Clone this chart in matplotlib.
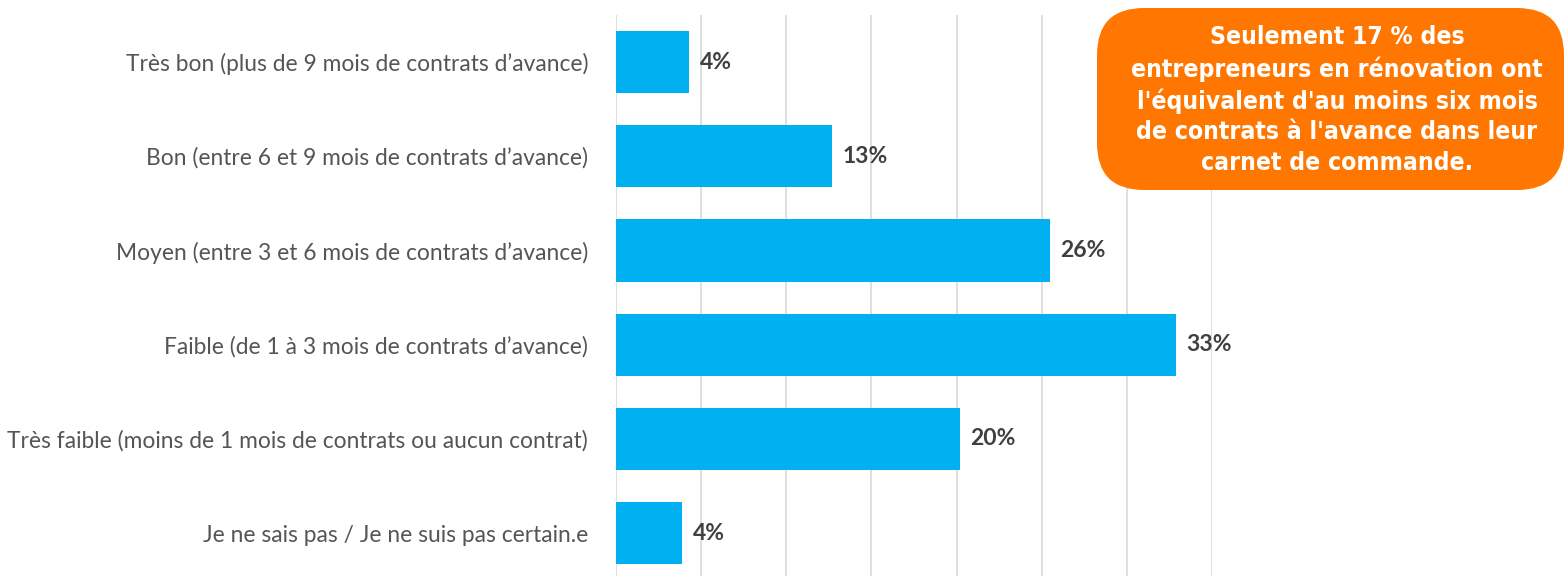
import matplotlib.pyplot as plt
from matplotlib.patches import FancyBboxPatch

categories = [
    "Très bon (plus de 9 mois de contrats d’avance)",
    "Bon (entre 6 et 9 mois de contrats d’avance)",
    "Moyen (entre 3 et 6 mois de contrats d’avance)",
    "Faible (de 1 à 3 mois de contrats d’avance)",
    "Très faible (moins de 1 mois de contrats ou aucun contrat)",
    "Je ne sais pas / Je ne suis pas certain.e",
]
values = [4.3, 12.7, 25.5, 32.9, 20.2, 3.9]
value_labels = ["4%", "13%", "26%", "33%", "20%", "4%"]
note = ("Seulement 17 % des\nentrepreneurs en rénovation ont\n"
        "l'équivalent d'au moins six mois\nde contrats à l'avance dans leur\n"
        "carnet de commande.")

W, H = 1566, 576
fig = plt.figure(figsize=(W / 100, H / 100), dpi=100)
ax = fig.add_axes([616 / W, 0, (1212 - 616) / W, (H - 15) / H])

y = list(range(len(categories)))
ax.barh(y, values, height=0.66, color="#00B0F0", zorder=2)
ax.set_xlim(0, 35)
ax.set_ylim(5.455, -0.5)
ax.set_xticks(range(0, 36, 5))
ax.xaxis.grid(True, color="#D9D9D9", linewidth=1.2, zorder=0)
ax.tick_params(axis="x", length=0, labelbottom=False)
ax.tick_params(axis="y", length=0, pad=20)
ax.set_yticks(y)
ax.set_yticklabels(categories, fontsize=16.4, color="#555555",
                   family=["Lato", "DejaVu Sans"])
for s in ax.spines.values():
    s.set_visible(False)

for yi, v, lab in zip(y, values, value_labels):
    ax.text(v + 0.6, yi, lab, va="center", ha="left", fontsize=16.5,
            fontweight="bold", color="#404040",
            family=["Lato", "DejaVu Sans"])

# orange callout box
box = FancyBboxPatch((1097 / W, 1 - 190 / H), (1564 - 1097) / W, (190 - 8) / H,
                     boxstyle="round,pad=0,rounding_size=0.03",
                     transform=fig.transFigure, facecolor="#FF7700",
                     edgecolor="none", mutation_aspect=W / H, zorder=5)
fig.patches.append(box)
fig.text(1337 / W, 1 - 100 / H, note, ha="center", va="center", color="white",
         fontsize=17.7, fontweight="bold", fontstretch="condensed",
         linespacing=1.34, zorder=6, family=["DejaVu Sans"])

fig.savefig("out.png", dpi=100)
